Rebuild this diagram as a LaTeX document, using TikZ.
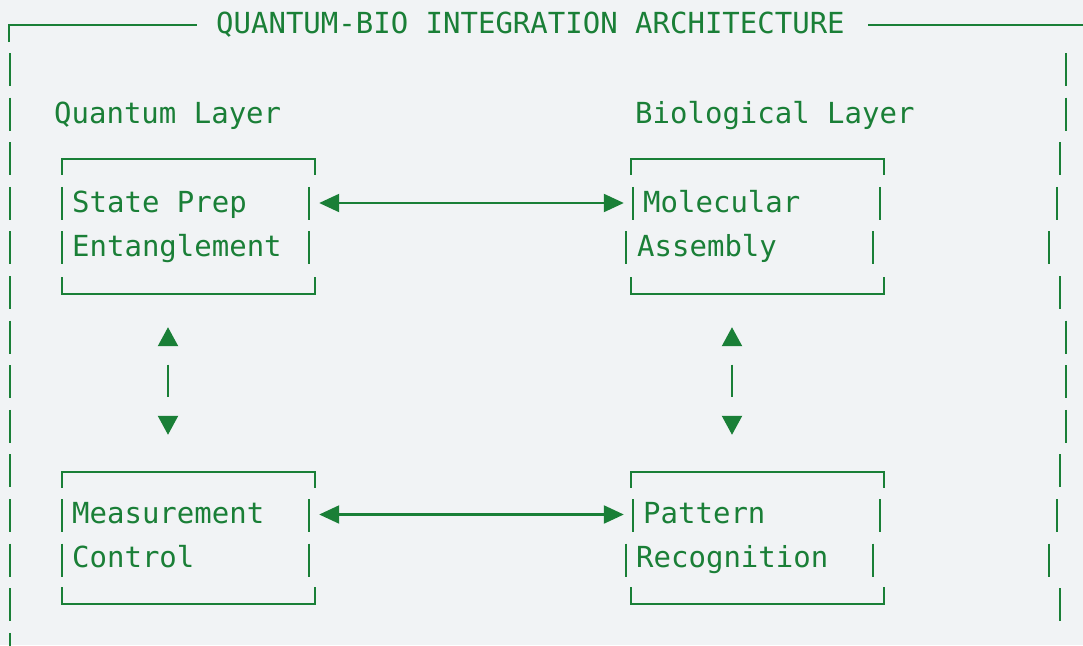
\documentclass[tikz,border=0pt]{standalone}
\usepackage{fontspec}
\setmonofont{DejaVu Sans Mono}
\usetikzlibrary{arrows.meta}
\definecolor{fg}{RGB}{26,127,55}
\definecolor{bg}{RGB}{241,243,245}
\begin{document}
\begin{tikzpicture}[x=1pt,y=-1pt,
  txt/.style={anchor=base west, inner sep=0pt, text=fg, font=\ttfamily\fontsize{29}{29}\selectfont},
  bar/.style={draw=fg, line width=2.2pt},
  frameline/.style={draw=fg, line width=2.2pt},
  boxarea/.style={draw=none, inner sep=0pt, minimum width=253pt},
  harr/.style={draw=fg, line width=2.2pt, {Triangle[length=20pt,width=18pt]}-{Triangle[length=20pt,width=18pt]}},
  varr/.style={draw=fg, line width=2.2pt, {Triangle[length=19pt,width=20pt]}-{Triangle[length=19pt,width=20pt]}, dash pattern=on 0pt off 19pt on 32pt off 60pt}
]
\useasboundingbox[fill=bg] (0,0) rectangle (1083,645);

% outer frame top
\node[txt] (title) at (216,33) {QUANTUM-BIO INTEGRATION ARCHITECTURE};
\coordinate (tl) at (9,25);
\coordinate (tr) at (1083,25);
\draw[frameline] ([yshift=-17pt]tl) -- (tl) -- (197,25);
\draw[frameline] (868,25) -- (tr);

% outer side bars
\foreach \r in {1,...,14} \draw[bar] (10,{53+44.6*(\r-1)}) -- ++(0,33);
\foreach \r/\x in {1/1066,2/1066,3/1060,4/1057,5/1049,6/1060,7/1066,8/1066,9/1066,10/1060,11/1057,12/1049,13/1060}
  \draw[bar] (\x,{53+44.6*(\r-1)}) -- ++(0,33);

% layer labels
\node[txt] (ql) at (54,123) {Quantum Layer};
\node[txt] (bl) at (635,123) {Biological Layer};

% box areas
\node[boxarea, minimum height=135pt] (qs) at (188.5,226.5) {};
\node[boxarea, minimum height=135pt] (mol) at (757.5,226.5) {};
\node[boxarea, minimum height=132pt] (meas) at (188.5,538) {};
\node[boxarea, minimum height=132pt] (pat) at (757.5,538) {};

% box top and bottom lines
\foreach \b in {qs,mol,meas,pat}{
  \draw[frameline] ([yshift=-16pt]\b.north west) -- (\b.north west) -- (\b.north east) -- ([yshift=-16pt]\b.north east);
  \draw[frameline] ([yshift=17pt]\b.south west) -- (\b.south west) -- (\b.south east) -- ([yshift=17pt]\b.south east);
}

% box side bars
\foreach \r in {4,5,11,12}{
  \draw[bar] (62,{53+44.6*(\r-1)}) -- ++(0,33);
  \draw[bar] (309,{53+44.6*(\r-1)}) -- ++(0,33);
}
\foreach \r in {4,11}{
  \draw[bar] (633,{53+44.6*(\r-1)}) -- ++(0,33);
  \draw[bar] (880,{53+44.6*(\r-1)}) -- ++(0,33);
}
\foreach \r in {5,12}{
  \draw[bar] (626,{53+44.6*(\r-1)}) -- ++(0,33);
  \draw[bar] (873,{53+44.6*(\r-1)}) -- ++(0,33);
}

% box texts
\node[txt] at (72,212) {State Prep};
\node[txt] at (72,256.6) {Entanglement};
\node[txt] at (643,212) {Molecular};
\node[txt] at (637,256.6) {Assembly};
\node[txt] at (72,523) {Measurement};
\node[txt] at (72,567.6) {Control};
\node[txt] at (643,523) {Pattern};
\node[txt] at (636,567.6) {Recognition};

% horizontal connectors
\draw[harr, shorten <=4pt, shorten >=7pt] ([yshift=23.5pt]qs.east) -- ([yshift=23.5pt]mol.west);
\draw[harr, shorten <=4pt, shorten >=7pt] ([yshift=23.5pt]meas.east) -- ([yshift=23.5pt]pat.west);

% vertical connectors
\draw[varr, shorten <=33pt, shorten >=37pt] ([xshift=-20.5pt]qs.south) -- ([xshift=-20.5pt]meas.north);
\draw[varr, shorten <=33pt, shorten >=37pt] ([xshift=-25.5pt]mol.south) -- ([xshift=-25.5pt]pat.north);
\end{tikzpicture}
\end{document}
